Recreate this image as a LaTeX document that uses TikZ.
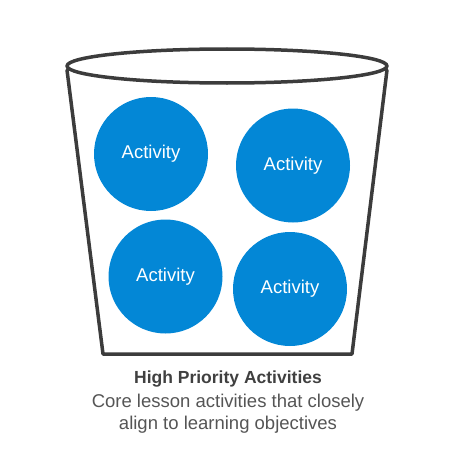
\documentclass[tikz,border=0pt]{standalone}
\usepackage{fontspec}
\setmainfont{Liberation Sans}
\definecolor{actblue}{RGB}{3,135,214}
\definecolor{bucketgray}{RGB}{60,60,60}
\definecolor{txtgray}{RGB}{64,64,64}
\definecolor{desccolor}{RGB}{85,85,85}
\tikzset{
  activity/.style={circle, fill=actblue, minimum size=114pt, inner sep=0pt, text=white, font=\fontsize{18.5}{20}\selectfont},
  bucketline/.style={draw=bucketgray, line width=3.5pt, line join=round, line cap=round},
  caption/.style={align=center, inner sep=0pt}
}
\begin{document}
\begin{tikzpicture}[x=1pt,y=-1pt]
\useasboundingbox (0,0) rectangle (452,452);
% bucket
\draw[bucketline] (67,70) -- (103,354) -- (352,354) -- (387,70);
\draw[bucketline] (227,66) ellipse [x radius=160, y radius=17];
% activities
\node[activity] (a1) at (151,154) {Activity};
\node[activity] (a2) at (293,165.5) {Activity};
\node[activity] (a3) at (165.5,276.5) {Activity};
\node[activity] (a4) at (290,289) {Activity};
% captions
\node[caption, text=txtgray, font=\bfseries\fontsize{17.5}{20}\selectfont] (title) at (228,379) {High Priority Activities};
\node[caption, text=desccolor, font=\fontsize{18.5}{22}\selectfont] (desc) at (228,414) {Core lesson activities that closely\\align to learning objectives};
\end{tikzpicture}
\end{document}
